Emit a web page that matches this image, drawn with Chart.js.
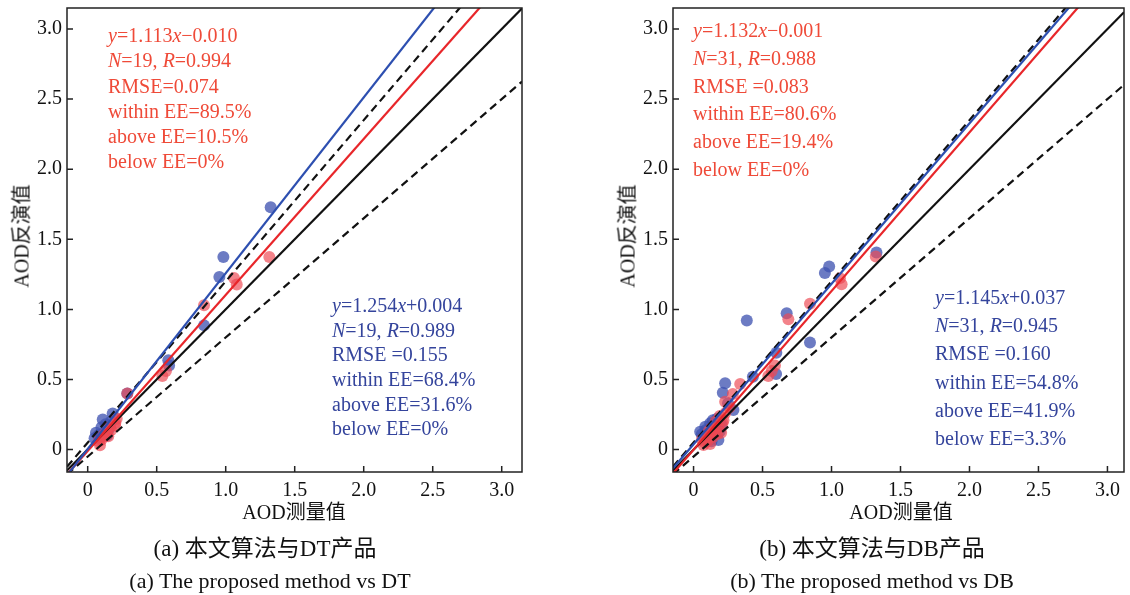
<!DOCTYPE html>
<html><head><meta charset="utf-8">
<script src="https://cdn.jsdelivr.net/npm/chart.js@4.4.0/dist/chart.umd.min.js"></script>
<style>
body{margin:0;background:#fff;width:1130px;height:595px;position:relative;overflow:hidden;font-family:"Liberation Serif","Noto Sans CJK SC",serif;}
.box{position:absolute;}
.ann{position:absolute;font-size:20px;white-space:nowrap;}
.ann div{height:var(--lh);line-height:var(--lh);}
.ann i{font-style:italic;}
.red{color:#ef4a38}
.blue{color:#34449c}
.t{position:absolute;color:#111;white-space:nowrap;transform:translate(-50%,-50%);}
.yt{transform:translate(-50%,-50%) rotate(-90deg);}
</style></head><body>
<div class="box" style="left:0;top:0;width:540px;height:530px"><canvas id="ca"></canvas></div>
<div class="box" style="left:600px;top:0;width:530px;height:530px"><canvas id="cb"></canvas></div>

<div class="ann red" style="left:108px;top:23px;--lh:25.3px">
<div><i>y</i>=1.113<i>x</i>−0.010</div><div><i>N</i>=19, <i>R</i>=0.994</div><div>RMSE=0.074</div><div>within EE=89.5%</div><div>above EE=10.5%</div><div>below EE=0%</div></div>
<div class="ann blue" style="left:332px;top:293px;--lh:24.7px">
<div><i>y</i>=1.254<i>x</i>+0.004</div><div><i>N</i>=19, <i>R</i>=0.989</div><div>RMSE =0.155</div><div>within EE=68.4%</div><div>above EE=31.6%</div><div>below EE=0%</div></div>
<div class="ann red" style="left:693px;top:17px;--lh:27.8px">
<div><i>y</i>=1.132<i>x</i>−0.001</div><div><i>N</i>=31, <i>R</i>=0.988</div><div>RMSE =0.083</div><div>within EE=80.6%</div><div>above EE=19.4%</div><div>below EE=0%</div></div>
<div class="ann blue" style="left:935px;top:283px;--lh:28.2px">
<div><i>y</i>=1.145<i>x</i>+0.037</div><div><i>N</i>=31, <i>R</i>=0.945</div><div>RMSE =0.160</div><div>within EE=54.8%</div><div>above EE=41.9%</div><div>below EE=3.3%</div></div>

<div class="t" style="left:294px;top:510px;font-size:20px">AOD测量值</div>
<div class="t" style="left:901px;top:510px;font-size:20px">AOD测量值</div>
<div class="t yt" style="left:20px;top:236px;font-size:20px">AOD反演值</div>
<div class="t yt" style="left:626px;top:236px;font-size:20px">AOD反演值</div>

<div class="t" style="left:265px;top:546px;font-size:23px">(a) 本文算法与DT产品</div>
<div class="t" style="left:270px;top:581px;font-size:22px">(a) The proposed method vs DT</div>
<div class="t" style="left:872px;top:546px;font-size:23px">(b) 本文算法与DB产品</div>
<div class="t" style="left:872px;top:581px;font-size:22px">(b) The proposed method vs DB</div>

<script>
// tick values and labels (both axes)
const tickValues = [0, 0.5, 1, 1.5, 2, 2.5, 3];
const tickLabels = ['0', '0.5', '1.0', '1.5', '2.0', '2.5', '3.0'];

// (a) proposed method (red) vs measured
const aOurs = [[1.316,1.374],[1.06,1.224],[1.08,1.178],[0.843,1.03],[0.541,0.524],[0.567,0.56],[0.287,0.40],
  [0.198,0.174],[0.149,0.095],[0.089,0.031],[0.17,0.14],[0.12,0.11],[0.10,0.07],[0.14,0.12],[0.20,0.19],
  [0.08,0.06],[0.16,0.16],[0.11,0.09],[0.21,0.22]];
// (a) DT product (blue) vs measured
const aProd = [[1.326,1.729],[0.983,1.374],[0.954,1.231],[0.843,0.886],[0.584,0.638],[0.59,0.60],[0.287,0.40],
  [0.181,0.257],[0.109,0.214],[0.077,0.102],[0.06,0.12],[0.10,0.16],[0.13,0.18],[0.15,0.14],[0.09,0.09],
  [0.12,0.12],[0.17,0.20],[0.14,0.10],[0.05,0.08]];
// (b) proposed method (red) vs measured
const bOurs = [[1.321,1.377],[1.061,1.223],[1.073,1.18],[0.844,1.04],[0.687,0.93],[0.542,0.525],[0.567,0.56],
  [0.338,0.468],[0.285,0.396],[0.229,0.341],[0.217,0.21],[0.26,0.30],[0.59,0.60],[0.072,0.032],[0.10,0.06],
  [0.12,0.10],[0.15,0.13],[0.18,0.16],[0.21,0.19],[0.09,0.08],[0.14,0.09],[0.16,0.20],[0.11,0.13],[0.19,0.24],
  [0.08,0.05],[0.13,0.15],[0.20,0.12],[0.17,0.11],[0.06,0.07],[0.23,0.26],[0.12,0.04]];
// (b) DB product (blue) vs measured
const bProd = [[1.326,1.406],[0.983,1.306],[0.952,1.259],[0.386,0.92],[0.675,0.973],[0.844,0.763],[0.60,0.69],
  [0.598,0.539],[0.43,0.52],[0.229,0.473],[0.212,0.406],[0.289,0.282],[0.25,0.33],[0.048,0.127],[0.085,0.163],
  [0.121,0.187],[0.18,0.068],[0.14,0.21],[0.10,0.10],[0.16,0.15],[0.12,0.07],[0.07,0.09],[0.20,0.18],[0.15,0.12],
  [0.09,0.14],[0.13,0.06],[0.11,0.12],[0.17,0.22],[0.06,0.11],[0.19,0.13],[0.14,0.17]];

// fit lines [slope, intercept]
const aOursFit = [1.113, -0.010];
const aProdFit = [1.254, 0.004];
const bOursFit = [1.132, -0.001];
const bProdFit = [1.145, 0.037];
const oneToOne = [1, 0];
const eeUpper = [1.15, 0.05];
const eeLower = [0.85, -0.05];

const FONT = 'Liberation Serif';

const framePlugin = {
  id: 'frame',
  afterDatasetsDraw(chart) {
    const {ctx, chartArea: a, scales: {x, y}} = chart;
    ctx.save();
    ctx.strokeStyle = '#222';
    ctx.lineWidth = 1.5;
    ctx.strokeRect(a.left, a.top, a.right - a.left, a.bottom - a.top);
    ctx.beginPath();
    tickValues.forEach(v => {
      const px = x.getPixelForValue(v);
      ctx.moveTo(px, a.bottom); ctx.lineTo(px, a.bottom - 6);
      const py = y.getPixelForValue(v);
      ctx.moveTo(a.left, py); ctx.lineTo(a.left + 6, py);
    });
    ctx.stroke();
    ctx.restore();
  }
};

function lineSet(fit, xr, color, dash, width) {
  return {
    type: 'line',
    data: xr.map(x => ({x: x, y: fit[0] * x + fit[1]})),
    borderColor: color, borderWidth: width, borderDash: dash,
    pointRadius: 0, fill: false, clip: 0, tension: 0
  };
}
function pts(arr, color) {
  return {
    type: 'scatter',
    data: arr.map(p => ({x: p[0], y: p[1]})),
    backgroundColor: color, borderWidth: 0, pointRadius: 6, pointHoverRadius: 6
  };
}

function makeChart(id, ours, prod, oursFit, prodFit, xMin, xMax, yw, padRight) {
  const xr = [xMin, xMax];
  new Chart(document.getElementById(id), {
    type: 'scatter',
    data: {
      datasets: [
        lineSet(prodFit, xr, '#2d4fb0', [], 2.2),
        lineSet(oursFit, xr, '#e8262a', [], 2.2),
        lineSet(oneToOne, xr, '#111', [], 2.2),
        lineSet(eeUpper, xr, '#111', [8, 5], 2.2),
        lineSet(eeLower, xr, '#111', [8, 5], 2.2),
        pts(ours, 'rgba(238,72,82,0.68)'),
        pts(prod, 'rgba(62,82,176,0.76)')
      ]
    },
    options: {
      responsive: true, maintainAspectRatio: false, animation: false,
      layout: {padding: {left: 0, top: 8, right: padRight, bottom: 0}},
      plugins: {legend: {display: false}, tooltip: {enabled: false}},
      scales: {
        x: {
          type: 'linear', min: xMin, max: xMax,
          grid: {display: false, drawTicks: false}, border: {display: false},
          ticks: {padding: 7, color: '#111', font: {family: FONT, size: 20},
            callback: v => tickLabels[tickValues.indexOf(v)]},
          afterBuildTicks: s => { s.ticks = tickValues.map(v => ({value: v})); },
          afterFit: s => { s.height = 58; s.paddingLeft = 0; s.paddingRight = 0; }
        },
        y: {
          type: 'linear', min: -0.16, max: 3.15,
          grid: {display: false, drawTicks: false}, border: {display: false},
          ticks: {padding: 5, color: '#111', font: {family: FONT, size: 20},
            callback: v => tickLabels[tickValues.indexOf(v)]},
          afterBuildTicks: s => { s.ticks = tickValues.map(v => ({value: v})); },
          afterFit: s => { s.width = yw; s.paddingTop = 0; s.paddingBottom = 0; }
        }
      }
    },
    plugins: [framePlugin]
  });
}

makeChart('ca', aOurs, aProd, aOursFit, aProdFit, -0.15, 3.147, 67, 18);
makeChart('cb', bOurs, bProd, bOursFit, bProdFit, -0.149, 3.12, 73, 5);
</script>
</body></html>
